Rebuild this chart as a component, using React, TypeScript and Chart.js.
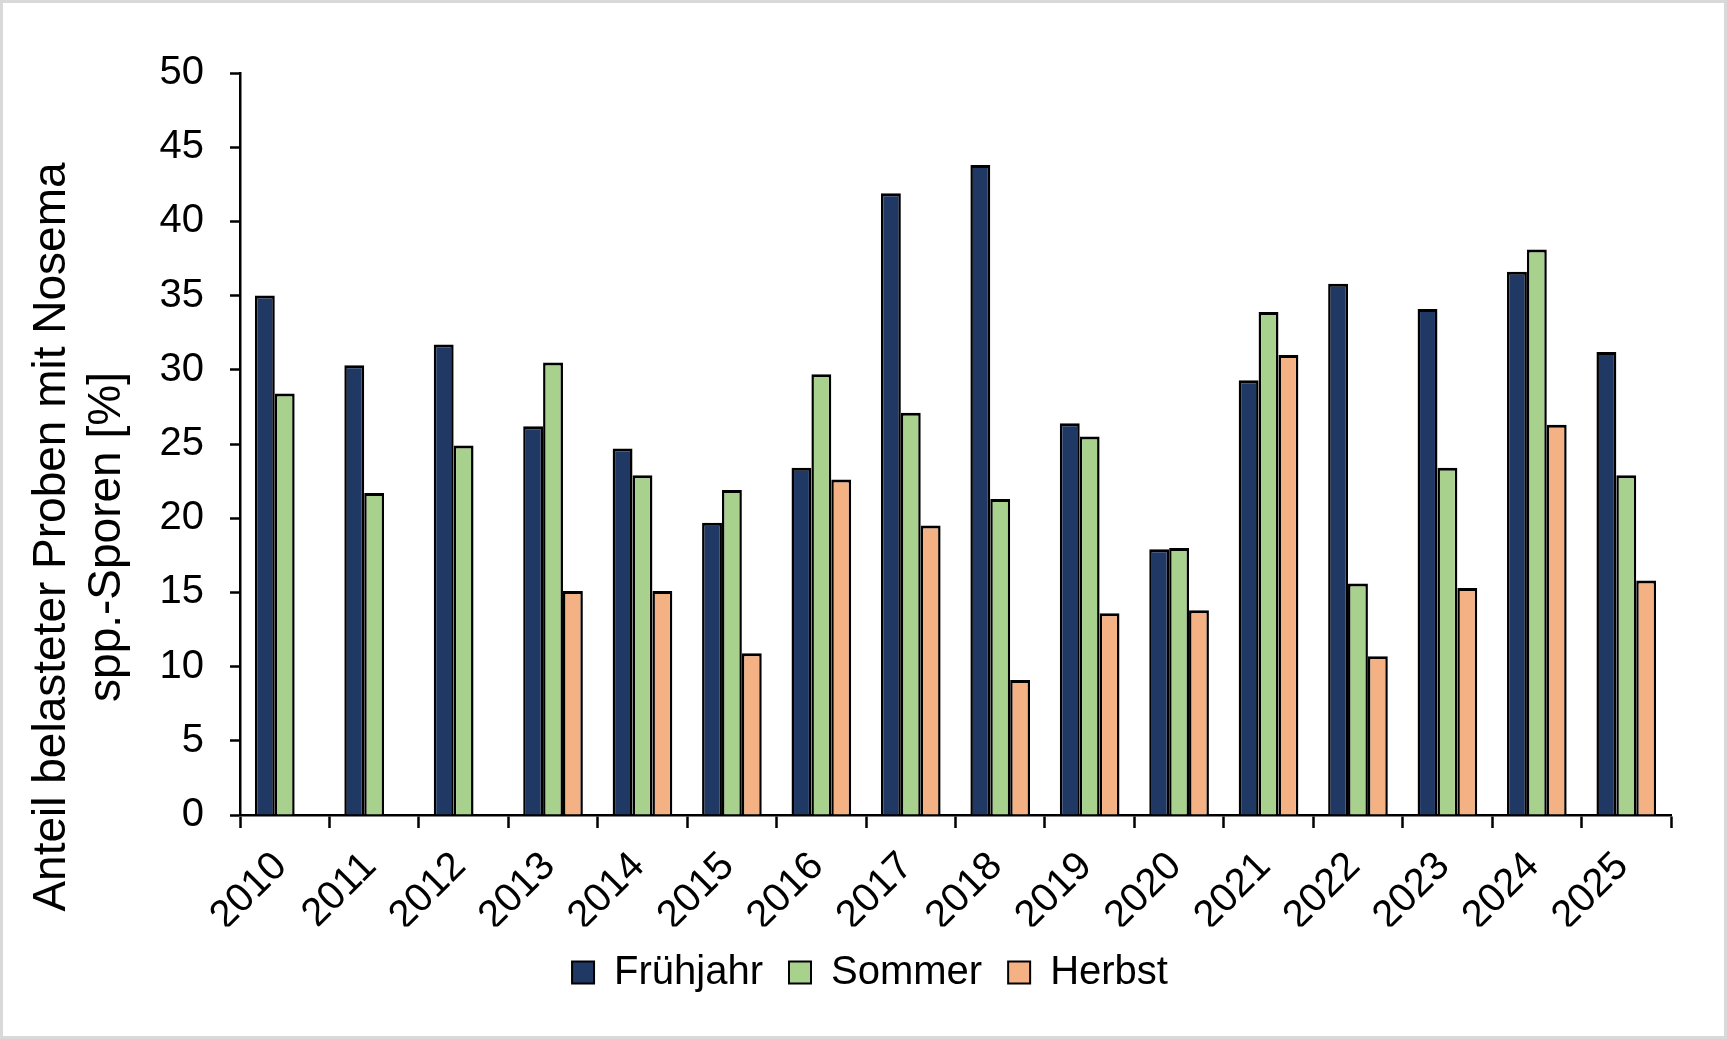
import { useEffect, useRef } from 'react';
import { Chart, registerables } from 'chart.js';

Chart.register(...registerables);

// ─── Data ─────────────────────────────────────────────────────────────────────

const YEARS = [
  '2010', '2011', '2012', '2013', '2014', '2015', '2016', '2017',
  '2018', '2019', '2020', '2021', '2022', '2023', '2024', '2025',
];
const FRUEHJAHR = [35.0, 30.3, 31.7, 26.2, 24.7, 19.7, 23.4, 41.9, 43.8, 26.4, 17.9, 29.3, 35.8, 34.1, 36.6, 31.2];
const SOMMER    = [28.4, 21.7, 24.9, 30.5, 22.9, 21.9, 29.7, 27.1, 21.3, 25.5, 18.0, 33.9, 15.6, 23.4, 38.1, 22.9];
const HERBST    = [null, null, null, 15.1, 15.1, 10.9, 22.6, 19.5, 9.1, 13.6, 13.8, 31.0, 10.7, 15.3, 26.3, 15.8];

const Y_TITLE = ['Anteil belasteter Proben mit Nosema', 'spp.-Sporen [%]'];

const FAMILY = 'Arial, "Liberation Sans", sans-serif';
const TICK_FONT = { family: FAMILY, size: 40 };

// y-axis title, two centred lines rotated like in the Excel original
const yTitlePlugin = {
  id: 'yTitle',
  afterDraw(chart: Chart) {
    const { ctx } = chart;
    ctx.save();
    ctx.font = `46px ${FAMILY}`;
    ctx.fillStyle = '#000';
    ctx.textAlign = 'center';
    ctx.textBaseline = 'middle';
    Y_TITLE.forEach((line, i) => {
      ctx.save();
      ctx.translate(49 + i * 55, 534);
      ctx.rotate(-Math.PI / 2);
      ctx.fillText(line, 0, 0);
      ctx.restore();
    });
    ctx.restore();
  },
};

function NosemaChart() {
  const canvasRef = useRef<HTMLCanvasElement>(null);
  const chartRef  = useRef<Chart | null>(null);

  useEffect(() => {
    if (!canvasRef.current) return;
    const existing = Chart.getChart(canvasRef.current);
    if (existing) existing.destroy();

    const bar = {
      borderColor: '#000',
      borderWidth: { top: 3, left: 2.5, right: 2.5, bottom: 0 },
      barPercentage: 1,
      categoryPercentage: 0.667,
    };

    chartRef.current = new Chart(canvasRef.current, {
      type: 'bar',
      data: {
        labels: YEARS,
        datasets: [
          { label: 'Frühjahr', data: FRUEHJAHR, backgroundColor: '#203864', ...bar },
          { label: 'Sommer',   data: SOMMER,    backgroundColor: '#A9D18E', ...bar },
          { label: 'Herbst',   data: HERBST,    backgroundColor: '#F4B183', ...bar },
        ],
      },
      options: {
        animation: false,
        responsive: true,
        maintainAspectRatio: false,
        layout: { padding: { left: 66, right: 53, top: 70, bottom: 33.5 } },
        plugins: {
          tooltip: { enabled: false },
          legend: {
            position: 'bottom',
            labels: { font: TICK_FONT, color: '#000', boxWidth: 22, boxHeight: 22, padding: 26 },
          },
        },
        scales: {
          x: {
            grid: { drawOnChartArea: false, drawTicks: true, tickLength: 13, tickWidth: 2.5, color: '#000', offset: true },
            border: { display: true, color: '#000', width: 2.5 },
            ticks: {
              font: TICK_FONT, color: '#000', minRotation: 45, maxRotation: 45,
              autoSkip: false, padding: 15, labelOffset: -4,
            },
            afterFit: (s: any) => { s.height = 111.5; s.paddingLeft = 0; s.paddingRight = 0; },
          },
          y: {
            min: 0,
            max: 50,
            grid: { drawOnChartArea: false, drawTicks: true, tickLength: 10, tickWidth: 2.5, color: '#000' },
            border: { display: true, color: '#000', width: 2.5 },
            ticks: { font: TICK_FONT, color: '#000', stepSize: 5, padding: 26 },
            afterFit: (s: any) => { s.width = 171; s.paddingTop = 0; s.paddingBottom = 0; },
          },
        },
      },
      plugins: [yTitlePlugin],
    });

    return () => { chartRef.current?.destroy(); chartRef.current = null; };
  }, []);

  return <canvas ref={canvasRef} />;
}

export default function App() {
  return (
    <div style={{
      position: 'absolute', left: 0, top: 0, width: 1727, height: 1039,
      boxSizing: 'border-box', border: '3px solid #d9d9d9', background: '#fff',
    }}>
      <div style={{ position: 'relative', width: 1721, height: 1033 }}>
        <NosemaChart />
      </div>
    </div>
  );
}
